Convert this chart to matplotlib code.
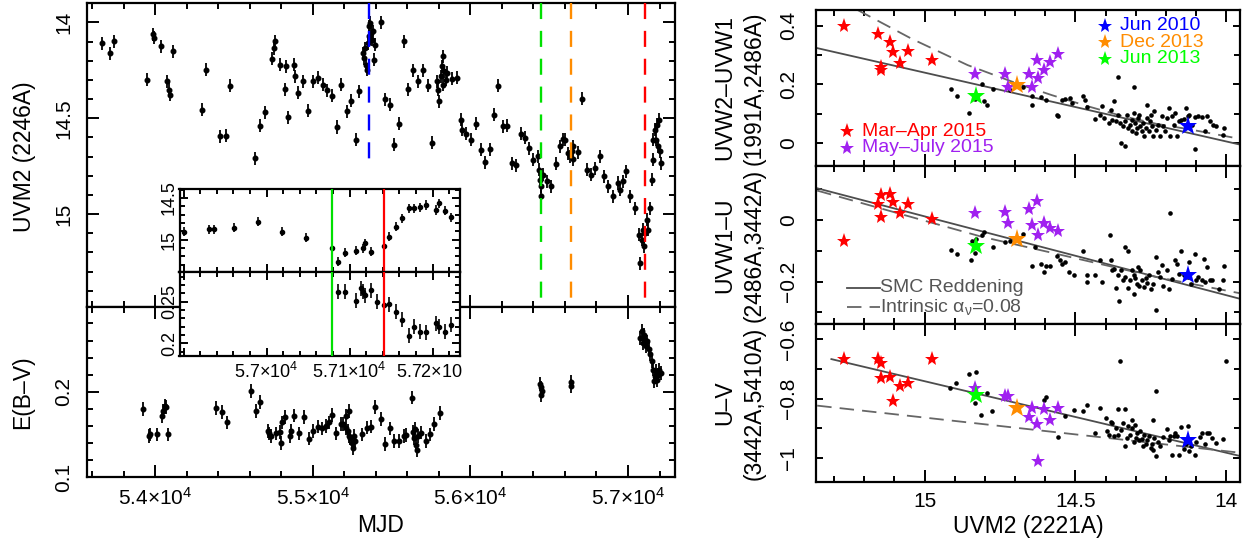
import matplotlib
matplotlib.use('Agg')
import matplotlib.pyplot as plt
from matplotlib.ticker import FixedLocator, MultipleLocator
from matplotlib.transforms import Bbox, TransformedBbox
from matplotlib.lines import Line2D

plt.rcParams['font.family'] = ['Liberation Sans', 'DejaVu Sans']
plt.rcParams['mathtext.fontset'] = 'custom'
plt.rcParams['mathtext.rm'] = 'Liberation Sans'
plt.rcParams['mathtext.it'] = 'Liberation Sans:italic'
plt.rcParams['mathtext.default'] = 'regular'
plt.rcParams['axes.unicode_minus'] = True

# ---------------- light curve (left, top) ----------------
lc_mjd = [53666, 53715, 53742, 53947, 53985, 53992, 54036, 54078, 54087, 54093,
          54112, 54298, 54323, 54412, 54448, 54477, 54636, 54666, 54696, 54742,
          54755, 54761, 54793, 54822, 54829, 54845, 54883, 54888, 54909, 54937,
          54972, 55002, 55032, 55063, 55091, 55120, 55152, 55181, 55216, 55245,
          55273, 55292, 55321, 55327, 55334, 55340, 55346, 55351, 55355, 55359,
          55365, 55370, 55376, 55380, 55387, 55395, 55433, 55460, 55490, 55517,
          55547, 55577, 55607, 55638, 55668, 55697, 55729, 55758, 55786, 55796,
          55803, 55812, 55818, 55824, 55828, 55834, 55843, 55850, 55881, 55913,
          55938, 55945, 55972, 56002, 56035, 56065, 56094, 56124, 56152, 56177,
          56209, 56234, 56262, 56289, 56319, 56348, 56373, 56399, 56427, 56437,
          56443, 56450, 56448, 56458, 56484, 56511, 56541, 56568, 56589, 56600,
          56621, 56632, 56642, 56649, 56652, 56680, 56706, 56737, 56763, 56790,
          56822, 56849, 56874, 56902, 56934, 56949, 56966, 56987, 57012, 57044,
          57069, 57077, 57086, 57092, 57101, 57107, 57118, 57128, 57139, 57150,
          57156, 57160, 57171, 57177, 57185, 57192, 57198, 57204, 57210]
lc_uvm2 = [14.108, 14.160, 14.099, 14.299, 14.061, 14.081, 14.125, 14.308, 14.351, 14.377,
           14.151, 14.456, 14.247, 14.595, 14.591, 14.330, 14.708, 14.539, 14.468, 14.191,
           14.134, 14.099, 14.221, 14.348, 14.230, 14.494, 14.221, 14.282, 14.368, 14.308,
           14.461, 14.308, 14.290, 14.325, 14.355, 14.383, 14.546, 14.325, 14.464, 14.409,
           14.612, 14.360, 14.160, 14.186, 14.134, 14.221, 14.247, 14.108, 14.073, 14.021,
           14.003, 14.055, 14.090, 14.047, 14.195, 14.116, 14.000, 14.400, 14.430, 14.638,
           14.529, 14.099, 14.349, 14.251, 14.308, 14.251, 14.330, 14.629, 14.308, 14.351,
           14.412, 14.282, 14.230, 14.177, 14.325, 14.256, 14.299, 14.264, 14.295, 14.290,
           14.508, 14.560, 14.581, 14.612, 14.530, 14.664, 14.729, 14.661, 14.482, 14.330,
           14.543, 14.539, 14.734, 14.746, 14.581, 14.603, 14.656, 14.717, 14.699, 14.769,
           14.821, 14.856, 14.908, 14.795, 14.830, 14.856, 14.738, 14.647, 14.609, 14.612,
           14.682, 14.699, 14.673, 14.713, 14.647, 14.678, 14.398, 14.769, 14.795, 14.760,
           14.699, 14.804, 14.856, 14.908, 14.838, 14.873, 14.830, 14.778, 14.908, 14.969,
           15.108, 15.256, 15.134, 15.082, 15.169, 15.099, 15.030, 15.082, 14.969, 14.821,
           14.717, 14.612, 14.560, 14.612, 14.534, 14.647, 14.508, 14.673, 14.734]
lc_err = 0.034

# ---------------- E(B-V) (left, bottom) ----------------
eb_mjd = [53922, 53959, 53968, 54009, 54045, 54051, 54060, 54066, 54083, 54387,
          54425, 54455, 54610, 54640, 54667, 54714, 54724, 54735, 54767, 54794,
          54800, 54805, 54822, 54857, 54862, 54883, 54911, 54946, 54974, 55004,
          55033, 55058, 55083, 55103, 55119, 55145, 55177, 55193, 55210, 55214,
          55232, 55222, 55232, 55239, 55248, 55254, 55260, 55269, 55313, 55345,
          55370, 55398, 55430, 55459, 55490, 55517, 55549, 55577, 55593, 55627,
          55637, 55643, 55649, 55654, 55661, 55669, 55684, 55717, 55744, 55770,
          55805, 56445, 56441, 56450, 56454, 56637, 56641,
          57075, 57086, 57092, 57101, 57107, 57113, 57121, 57130, 57139, 57150,
          57160, 57164, 57171, 57177, 57185, 57192, 57198, 57207]
eb_val = [0.180, 0.148, 0.150, 0.150, 0.171, 0.177, 0.183, 0.182, 0.150, 0.181,
          0.176, 0.164, 0.201, 0.177, 0.188, 0.154, 0.151, 0.148, 0.151, 0.153,
          0.140, 0.164, 0.170, 0.148, 0.154, 0.172, 0.151, 0.170, 0.145, 0.154,
          0.159, 0.157, 0.160, 0.164, 0.173, 0.151, 0.162, 0.162, 0.172, 0.157,
          0.148, 0.154, 0.177, 0.146, 0.140, 0.134, 0.148, 0.142, 0.150, 0.158,
          0.159, 0.182, 0.168, 0.139, 0.157, 0.142, 0.142, 0.148, 0.149, 0.193,
          0.153, 0.146, 0.156, 0.138, 0.132, 0.148, 0.152, 0.142, 0.150, 0.162,
          0.175, 0.205, 0.209, 0.196, 0.201, 0.207, 0.211,
          0.263, 0.271, 0.257, 0.267, 0.261, 0.253, 0.259, 0.250, 0.244, 0.236,
          0.226, 0.212, 0.218, 0.224, 0.214, 0.220, 0.226, 0.222]
eb_err = 0.008

# ---------------- inset ----------------
in_mjd = [56900, 56931, 56936, 56961, 56990, 57019, 57048, 57079, 57086, 57094,
          57108, 57116, 57118, 57126, 57141, 57148, 57156, 57163, 57171, 57178,
          57185, 57192, 57204, 57208, 57215, 57222]
in_uvm2 = [14.905, 14.876, 14.876, 14.857, 14.784, 14.905, 14.977, 15.104, 15.264, 15.157,
           15.133, 15.104, 15.044, 15.145, 15.076, 14.964, 14.844, 14.744, 14.624, 14.624,
           14.612, 14.584, 14.644, 14.564, 14.652, 14.732]
in_eb_mjd = [57086, 57094, 57108, 57114, 57116, 57118, 57126, 57133, 57141, 57148,
             57156, 57163, 57171, 57178, 57185, 57192, 57204, 57208, 57215, 57222]
in_eb = [0.262, 0.262, 0.251, 0.266, 0.262, 0.258, 0.264, 0.250, 0.246, 0.247,
         0.238, 0.228, 0.209, 0.220, 0.214, 0.213, 0.224, 0.220, 0.214, 0.222]
in_uvm2_err = 0.055
in_eb_err = 0.009

# epochs marked
epoch_mjd = [55357, 56448, 56638, 57107]
epoch_colors = ['#0000FF', '#00E000', '#FF8C00', '#FF0000']
inset_epoch_mjd = [57079, 57141]
inset_epoch_colors = ['#00E000', '#FF0000']

# ---------------- colour-magnitude (right) ----------------
dot_uvm2_1 = [14.913, 14.892, 14.852, 14.834, 14.811, 14.802, 14.794, 14.773, 14.718, 14.672,
              14.645, 14.645, 14.614, 14.597, 14.562, 14.556, 14.545, 14.533, 14.519, 14.510,
              14.475, 14.469, 14.463, 14.435, 14.417, 14.411, 14.406, 14.388, 14.382, 14.377,
              14.373, 14.365, 14.359, 14.357, 14.353, 14.348, 14.342, 14.336, 14.336, 14.330,
              14.324, 14.319, 14.313, 14.311, 14.307, 14.305, 14.301, 14.299, 14.295, 14.292,
              14.290, 14.284, 14.278, 14.276, 14.272, 14.267, 14.264, 14.261, 14.255, 14.251,
              14.249, 14.246, 14.243, 14.238, 14.232, 14.226, 14.220, 14.214, 14.209, 14.203,
              14.197, 14.191, 14.185, 14.180, 14.174, 14.168, 14.162, 14.156, 14.148, 14.139,
              14.133, 14.127, 14.122, 14.114, 14.104, 14.102, 14.093, 14.081, 14.070, 14.064,
              14.052, 14.044, 14.035, 14.012, 14.006]
dot_c1 = [0.183, 0.160, 0.101, 0.149, 0.201, 0.141, 0.130, 0.183, 0.180, 0.189,
          0.160, 0.130, 0.158, 0.146, 0.096, 0.090, 0.146, 0.149, 0.152, 0.135,
          0.160, 0.146, 0.122, 0.081, 0.096, 0.124, 0.084, 0.068, 0.113, 0.079,
          0.141, 0.073, 0.096, 0.223, 0.068, 0.000, 0.056, -0.011, 0.073, 0.096,
          0.051, 0.062, 0.079, 0.039, 0.101, 0.192, 0.068, 0.034, 0.051, 0.084,
          0.096, 0.056, 0.039, 0.068, 0.023, 0.051, 0.084, 0.130, 0.039, 0.073,
          0.096, 0.059, 0.023, 0.107, 0.045, 0.062, 0.023, 0.090, 0.056, 0.039,
          0.084, 0.118, 0.023, 0.090, 0.062, 0.101, 0.023, 0.073, 0.079, 0.081,
          0.118, 0.090, 0.096, 0.062, 0.088, -0.020, 0.090, 0.088, 0.039, 0.090,
          0.073, 0.062, 0.059, 0.028, 0.051]

dot_uvm2_2 = [14.913, 14.892, 14.846, 14.844, 14.834, 14.829, 14.811, 14.802, 14.773, 14.732,
              14.718, 14.672, 14.643, 14.634, 14.614, 14.603, 14.597, 14.585, 14.562, 14.550,
              14.545, 14.533, 14.521, 14.504, 14.475, 14.463, 14.463, 14.435, 14.417, 14.411,
              14.385, 14.382, 14.377, 14.371, 14.365, 14.359, 14.356, 14.348, 14.342, 14.336,
              14.334, 14.327, 14.324, 14.319, 14.313, 14.307, 14.304, 14.301, 14.295, 14.292,
              14.290, 14.284, 14.278, 14.272, 14.267, 14.261, 14.255, 14.249, 14.243, 14.234,
              14.232, 14.226, 14.220, 14.214, 14.209, 14.197, 14.191, 14.185, 14.180, 14.168,
              14.162, 14.156, 14.151, 14.139, 14.127, 14.122, 14.116, 14.104, 14.099, 14.093,
              14.081, 14.075, 14.070, 14.064, 14.052, 14.046, 14.023, 14.012, 14.006]
dot_c2 = [-0.098, -0.109, -0.129, -0.068, -0.107, -0.060, -0.049, -0.038, -0.089, -0.071,
          -0.068, -0.046, -0.150, -0.089, -0.142, -0.169, -0.150, -0.150, -0.118, -0.131,
          -0.142, -0.136, -0.169, -0.180, -0.100, -0.180, -0.202, -0.180, -0.131, -0.202,
          -0.049, -0.131, -0.163, -0.158, -0.220, -0.177, -0.262, -0.163, -0.196, -0.089,
          -0.185, -0.100, -0.220, -0.196, -0.161, -0.177, -0.240, -0.187, -0.207, -0.153,
          -0.213, -0.163, -0.196, -0.218, -0.187, -0.205, -0.177, -0.223, -0.207, -0.120,
          -0.292, -0.169, -0.185, -0.147, -0.213, -0.163, -0.223, 0.022, -0.191, -0.131,
          -0.142, -0.174, -0.100, -0.177, -0.185, -0.136, -0.207, -0.109, -0.196, -0.185,
          -0.196, -0.125, -0.202, -0.153, -0.196, -0.194, -0.223, -0.196, -0.150]

dot_uvm2_3 = [14.915, 14.895, 14.854, 14.834, 14.829, 14.813, 14.794, 14.776, 14.605, 14.597,
              14.556, 14.533, 14.504, 14.475, 14.463, 14.435, 14.417, 14.400, 14.394, 14.388,
              14.382, 14.377, 14.371, 14.365, 14.359, 14.357, 14.353, 14.348, 14.342, 14.336,
              14.334, 14.330, 14.324, 14.319, 14.313, 14.311, 14.307, 14.301, 14.299, 14.295,
              14.290, 14.284, 14.278, 14.276, 14.272, 14.267, 14.261, 14.255, 14.249, 14.246,
              14.243, 14.241, 14.238, 14.234, 14.232, 14.226, 14.220, 14.209, 14.197, 14.191,
              14.185, 14.180, 14.174, 14.168, 14.162, 14.156, 14.151, 14.139, 14.133, 14.127,
              14.122, 14.116, 14.104, 14.099, 14.087, 14.081, 14.070, 14.064, 14.056, 14.046,
              14.035, 14.012, 14.002]
dot_c3 = [-0.765, -0.746, -0.717, -0.815, -0.712, -0.854, -0.782, -0.843, -0.804, -0.795,
          -0.929, -0.858, -0.838, -0.841, -0.821, -0.918, -0.832, -0.866, -0.910, -0.922,
          -0.880, -0.882, -0.927, -0.899, -0.835, -0.922, -0.675, -0.905, -0.882, -0.959,
          -0.835, -0.933, -0.894, -0.922, -0.899, -0.873, -0.947, -0.888, -0.933, -0.916,
          -0.941, -0.910, -0.938, -0.961, -0.922, -0.955, -0.941, -0.927, -0.966, -0.952,
          -0.871, -0.974, -0.933, -0.776, -0.994, -0.947, -0.961, -0.929, -0.903, -0.941,
          -0.927, -0.989, -0.927, -0.916, -0.927, -0.989, -0.896, -0.972, -0.955, -0.894,
          -0.978, -0.961, -0.992, -0.947, -0.929, -0.916, -0.952, -0.918, -0.916, -0.933,
          -0.950, -0.938, -0.675]

# Mar-Apr 2015 (red stars)
red_uvm2 = [15.267, 15.155, 15.146, 15.143, 15.115, 15.105, 15.083, 15.054, 14.976]
red_c1 = [0.400, 0.372, 0.259, 0.250, 0.344, 0.310, 0.273, 0.313, 0.282]
red_c2 = [-0.069, 0.052, 0.082, 0.011, 0.085, 0.060, 0.024, 0.054, 0.002]
red_c3 = [-0.667, -0.667, -0.681, -0.731, -0.728, -0.810, -0.757, -0.748, -0.667]
# May-July 2015 (purple stars)
pur_uvm2 = [14.832, 14.732, 14.724, 14.655, 14.643, 14.626, 14.623, 14.603, 14.585, 14.556]
pur_c1 = [0.234, 0.234, 0.192, 0.234, 0.192, 0.284, 0.220, 0.248, 0.276, 0.304]
pur_c2 = [0.024, 0.027, -0.009, 0.035, -0.016, 0.063, -0.049, -0.011, -0.027, -0.036]
pur_c3 = [-0.765, -0.790, -0.793, -0.862, -0.832, -0.885, -1.011, -0.835, -0.871, -0.832]
# single epochs: Jun 2010, Dec 2013, Jun 2013
ep_names = ['Jun 2010', 'Dec 2013', 'Jun 2013']
ep_colors = ['#0000FF', '#FF8C00', '#00FF00']
ep_uvm2 = [14.125, 14.695, 14.831]
ep_c1 = [0.059, 0.197, 0.161]
ep_c2 = [-0.177, -0.062, -0.085]
ep_c3 = [-0.941, -0.832, -0.787]

# SMC reddening (solid) and intrinsic alpha=0.08 tracks (dashed)
smc_x = [[15.356, 13.954], [15.356, 13.954], [15.309, 13.954]]
smc_y = [[0.323, -0.006], [0.1035, -0.256], [-0.667, -0.994]]
intr_x = [[15.222, 15.043, 14.857, 14.695, 14.579, 14.463, 14.347, 14.232, 14.116, 13.954],
          [15.356, 14.811, 14.579, 14.232, 13.954],
          [15.356, 13.954]]
intr_y = [[0.453, 0.355, 0.265, 0.203, 0.163, 0.126, 0.092, 0.065, 0.045, 0.0135],
          [0.096, -0.054, -0.106, -0.185, -0.238],
          [-0.824, -0.983]]

# ================= figure =================
W, H = 1250, 544
fig = plt.figure(figsize=(W / 100, H / 100), dpi=100)


def rect(x0, y0, x1, y1):
    return [x0 / W, 1 - y1 / H, (x1 - x0) / W, (y1 - y0) / H]


TICK_FS = 15
LAB_FS = 16.5


def style(ax, fs=TICK_FS, maj=8.5, mino=4.5, pad_x=7, pad_y=9):
    for s in ax.spines.values():
        s.set_linewidth(1.6)
    ax.tick_params(which='both', direction='in', top=True, right=True,
                   width=1.4, labelsize=fs)
    ax.tick_params(which='major', length=maj)
    ax.tick_params(which='minor', length=mino)
    ax.tick_params(axis='x', pad=pad_x)
    ax.tick_params(axis='y', pad=pad_y)


# ---- left: light curve ----
ax_lc = fig.add_axes(rect(87, 3, 675, 307))
ax_eb = fig.add_axes(rect(87, 307, 675, 477))
for ax in (ax_lc, ax_eb):
    style(ax, pad_y=10)
    ax.set_xlim(53568, 57298)
    ax.xaxis.set_major_locator(FixedLocator([54000, 55000, 56000, 57000]))
    ax.xaxis.set_minor_locator(MultipleLocator(200))

ax_lc.tick_params(labelbottom=False)
ax_lc.set_ylim(15.485, 13.899)
ax_lc.set_yticks([14, 14.5, 15], ['14', '14.5', '15'], rotation=90, va='center')
ax_lc.yaxis.set_minor_locator(MultipleLocator(0.1))
ax_lc.errorbar(lc_mjd, lc_uvm2, yerr=lc_err, fmt='o', ms=3.3, color='black',
               elinewidth=1.3, capsize=0, zorder=3)
ax_lc.vlines(epoch_mjd[0], 13.899, 14.769, colors=epoch_colors[0], lw=1.7,
             linestyles=(0, (6.8, 5)), zorder=4)
for m, c in zip(epoch_mjd[1:], epoch_colors[1:]):
    ax_lc.vlines(m, 13.899, 15.485, colors=c, lw=1.7, linestyles=(0, (6.8, 5)), zorder=4)

ax_eb.set_ylim(0.1, 0.2993)
ax_eb.set_yticks([0.1, 0.2], ['0.1', '0.2'], rotation=90, va='center')
ax_eb.yaxis.set_minor_locator(MultipleLocator(0.02))
ax_eb.set_xticks([54000, 55000, 56000, 57000],
                 ['5.4×10$^{4}$', '5.5×10$^{4}$', '5.6×10$^{4}$', '5.7×10$^{4}$'])
ax_eb.errorbar(eb_mjd, eb_val, yerr=eb_err, fmt='o', ms=3.3, color='black',
               elinewidth=1.3, capsize=0, zorder=3)

fig.text(25 / W, 1 - 157 / H, 'UVM2 (2246A)', rotation=90, ha='center', va='center',
         fontsize=LAB_FS)
fig.text(23 / W, 1 - 392 / H, 'E(B–V)', rotation=90, ha='center', va='center',
         fontsize=LAB_FS)
fig.text(381 / W, 1 - 525 / H, 'MJD', ha='center', va='center', fontsize=LAB_FS)

# ---- inset ----
IN_FS = 13
ax_in1 = fig.add_axes(rect(179.5, 189.3, 460, 272.3))
ax_in2 = fig.add_axes(rect(179.5, 272.3, 460, 356))
for ax in (ax_in1, ax_in2):
    ax.set_zorder(5)
    ax.set_facecolor('white')
    style(ax, fs=IN_FS, maj=6, mino=3.5, pad_y=1.2)
    ax.set_xlim(56895, 57233)
    ax.xaxis.set_major_locator(MultipleLocator(100))
    ax.xaxis.set_minor_locator(MultipleLocator(20))
    ax.tick_params(labelbottom=False)
    for m, c in zip(inset_epoch_mjd, inset_epoch_colors):
        ax.axvline(m, color=c, lw=1.6, zorder=4)

ax_in1.set_ylim(15.391, 14.396)
ax_in1.set_yticks([14.5, 15], ['14.5', '15'], rotation=90, va='center')
ax_in1.yaxis.set_minor_locator(MultipleLocator(0.1))
ax_in1.errorbar(in_mjd, in_uvm2, yerr=in_uvm2_err, fmt='o', ms=3.0, color='black',
                elinewidth=1.2, capsize=0, zorder=3)

ax_in2.set_ylim(0.1847, 0.2853)
ax_in2.set_yticks([0.2, 0.25], ['0.2', '0.25'], rotation=90, va='center')
ax_in2.yaxis.set_minor_locator(MultipleLocator(0.01))
ax_in2.errorbar(in_eb_mjd, in_eb, yerr=in_eb_err, fmt='o', ms=3.0, color='black',
                elinewidth=1.2, capsize=0, zorder=3)

clip = TransformedBbox(Bbox.from_extents(0, 0, 462 / W, 1), fig.transFigure)
for m, lab in zip([57000, 57100, 57200],
                  ['5.7×10$^{4}$', '5.71×10$^{4}$', '5.72×10$^{4}$']):
    t = ax_in2.text(m, -0.19, lab, transform=ax_in2.get_xaxis_transform(),
                    ha='center', va='center', fontsize=IN_FS, zorder=6)
    t.set_clip_box(clip)
    t.set_clip_on(True)

# ---- right: colour-magnitude panels ----
ax_r1 = fig.add_axes(rect(816, 10, 1240, 166))
ax_r2 = fig.add_axes(rect(816, 166, 1240, 324))
ax_r3 = fig.add_axes(rect(816, 324, 1240, 482))
r_axes = [ax_r1, ax_r2, ax_r3]
ylims = [(-0.079, 0.453), (-0.338, 0.176), (-1.0818, -0.5485)]
yticks = [([0, 0.2, 0.4], ['0', '0.2', '0.4']),
          ([-0.2, 0], ['−0.2', '0']),
          ([-1, -0.8, -0.6], ['−1', '−0.8', '−0.6'])]
dots_x = [dot_uvm2_1, dot_uvm2_2, dot_uvm2_3]
dots_y = [dot_c1, dot_c2, dot_c3]
reds = [red_c1, red_c2, red_c3]
purs = [pur_c1, pur_c2, pur_c3]
eps = [ep_c1, ep_c2, ep_c3]

for i, ax in enumerate(r_axes):
    style(ax, pad_y=13)
    ax.set_xlim(15.36, 13.954)
    ax.set_xticks([15, 14.5, 14], ['15', '14.5', '14'])
    ax.xaxis.set_minor_locator(MultipleLocator(0.1))
    ax.set_ylim(*ylims[i])
    ax.set_yticks(yticks[i][0], yticks[i][1], rotation=90, va='center')
    ax.yaxis.set_minor_locator(MultipleLocator(0.1))
    ax.tick_params(axis='y', which='major', length=5)
    if i < 2:
        ax.tick_params(labelbottom=False)
    ax.plot(smc_x[i], smc_y[i], color='#4d4d4d', lw=1.3, zorder=2)
    ax.plot(intr_x[i], intr_y[i], color='#666666', lw=1.3, ls=(0, (8, 4.5)), zorder=2)
    ax.plot(dots_x[i], dots_y[i], 'o', ms=3.3, color='black', mew=0, zorder=3)
    ax.plot(red_uvm2, reds[i], '*', ms=11, color='#FF0000', mew=0, zorder=4)
    ax.plot(pur_uvm2, purs[i], '*', ms=11, color='#A020F0', mew=0, zorder=4)
    for xv, yv, c in zip(ep_uvm2, eps[i], ep_colors):
        ax.plot(xv, yv, '*', ms=14, color=c, mew=0, zorder=5)

# legends in the top panel
leg_fs = 14
for k, (name, c) in enumerate(zip(ep_names, ep_colors)):
    y = 0.90 - 0.106 * k
    ax_r1.plot(0.682, y, '*', ms=11, color=c, mew=0, transform=ax_r1.transAxes)
    ax_r1.text(0.716, y, name, color=c, fontsize=leg_fs, va='center', ha='left',
               transform=ax_r1.transAxes)
for k, (name, c) in enumerate(zip(['Mar–Apr 2015', 'May–July 2015'],
                                  ['#FF0000', '#A020F0'])):
    y = 0.222 - 0.106 * k
    ax_r1.plot(0.073, y, '*', ms=11, color=c, mew=0, transform=ax_r1.transAxes)
    ax_r1.text(0.109, y, name, color=c, fontsize=leg_fs, va='center', ha='left',
               transform=ax_r1.transAxes)

# line legend in middle panel
ax_r2.add_line(Line2D([0.0727, 0.150], [0.229, 0.229], color='#4d4d4d', lw=1.3,
                      transform=ax_r2.transAxes))
ax_r2.add_line(Line2D([0.0727, 0.150], [0.11, 0.11], color='#666666', lw=1.3,
                      ls=(0, (8, 4.5)), transform=ax_r2.transAxes))
ax_r2.text(0.150, 0.229, 'SMC Reddening', color='#555555', fontsize=leg_fs,
           va='center', ha='left', transform=ax_r2.transAxes)
ax_r2.text(0.150, 0.11, 'Intrinsic α$_{\\nu}$=0.08', color='#555555', fontsize=leg_fs,
           va='center', ha='left', transform=ax_r2.transAxes)

# right axis labels
rlabels = [('UVW2–UVW1', '(1991A,2486A)', 88),
           ('UVW1–U', '(2486A,3442A)', 245),
           ('U–V', '(3442A,5410A)', 403)]
for l1, l2, yc in rlabels:
    fig.text(725 / W, 1 - yc / H, l1, rotation=90, ha='center', va='center',
             fontsize=LAB_FS)
    fig.text(754 / W, 1 - yc / H, l2, rotation=90, ha='center', va='center',
             fontsize=LAB_FS)
fig.text(1028 / W, 1 - 527 / H, 'UVM2 (2221A)', ha='center', va='center',
         fontsize=LAB_FS)

fig.savefig('out.png', dpi=100)
